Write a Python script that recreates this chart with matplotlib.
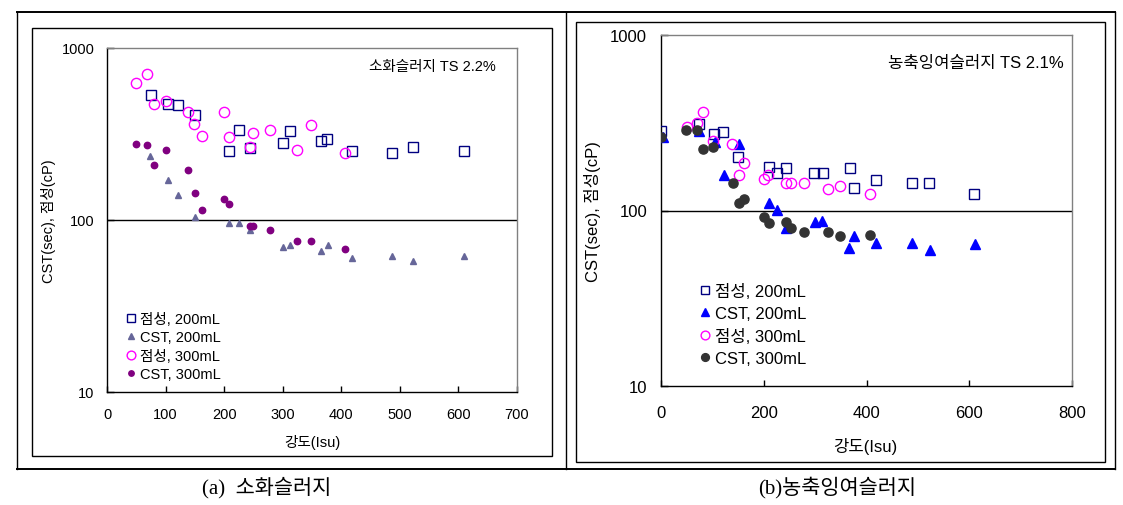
import matplotlib
matplotlib.use("Agg")
import matplotlib.pyplot as plt
from matplotlib.lines import Line2D
from matplotlib.patches import Rectangle

plt.rcParams['font.family'] = ['Liberation Sans', 'Noto Sans CJK KR', 'DejaVu Sans']

# ---------------- data: (a) 소화슬러지 ----------------
a_visc200_x = [75, 104, 122, 150, 208, 225, 244, 300, 313, 366, 376, 418, 486, 522, 609]
a_visc200_y = [531, 471, 464, 406, 251, 335, 262, 279, 329, 287, 295, 251, 244, 265, 253]
a_cst200_x = [74, 104, 122, 150, 209, 225, 244, 300, 313, 366, 377, 418, 486, 522, 609]
a_cst200_y = [234, 171, 140, 104, 96, 96, 88, 70, 72, 66, 72, 60, 62, 58, 62]
a_visc300_x = [49, 69, 80, 100, 139, 149, 162, 199, 208, 250, 244, 279, 324, 348, 406]
a_visc300_y = [627, 706, 474, 492, 423, 362, 307, 423, 305, 322, 265, 335, 254, 356, 244]
a_cst300_x = [49, 69, 80, 100, 139, 150, 162, 200, 209, 244, 250, 279, 325, 348, 406]
a_cst300_y = [278, 274, 209, 254, 195, 143, 114, 132, 124, 92, 92, 88, 75.5, 75.5, 68]

# ---------------- data: (b) 농축잉여슬러지 ----------------
b_visc200_x = [0, 73, 103, 121, 150, 210, 225, 244, 298, 315, 367, 375, 419, 489, 522, 610]
b_visc200_y = [285, 311, 273, 279, 203, 176, 163, 174, 163, 163, 175, 134, 149, 144, 144, 124]
b_cst200_x = [3, 73, 105, 122, 151, 210, 225, 243, 300, 314, 366, 376, 419, 489, 523, 611]
b_cst200_y = [262, 285, 245, 160, 239, 111, 101, 80, 85.7, 86.8, 61.4, 71.3, 65, 65.3, 59.6, 64.2]
b_visc300_x = [50, 71, 81, 101, 139, 162, 151, 200, 209, 243, 253, 278, 326, 349, 406]
b_visc300_y = [301, 316, 364, 250, 239, 187, 159, 151, 159, 144, 144, 144, 133, 138, 124]
b_cst300_x = [0, 49, 71, 82, 101, 140, 151, 162, 200, 210, 243, 253, 278, 326, 349, 406]
b_cst300_y = [264, 289, 289, 223, 229, 144, 111, 116, 92, 85, 85.7, 79.8, 75.4, 75.4, 71.8, 72.2]

labels = ['점성, 200mL', 'CST, 200mL', '점성, 300mL', 'CST, 300mL']
a_xticks = [0, 100, 200, 300, 400, 500, 600, 700]
b_xticks = [0, 200, 400, 600, 800]
yticks = [10, 100, 1000]
ylabel = 'CST(sec), 점성(cP)'
xlabel = '강도(Isu)'
a_note = '소화슬러지 TS 2.2%'
b_note = '농축잉여슬러지 TS 2.1%'
a_caption = '(a)  소화슬러지'
b_caption = '(b)농축잉여슬러지'

W, H = 1123, 506
fig = plt.figure(figsize=(W / 100, H / 100), dpi=100)


def box(l, t, r, b):
    return [l / W, 1 - b / H, (r - l) / W, (b - t) / H]


def line(x0, y0, x1, y1, lw=1.0):
    fig.add_artist(Line2D([x0 / W, x1 / W], [1 - y0 / H, 1 - y1 / H],
                          transform=fig.transFigure, color='black', lw=lw))


# outer table
line(17, 13, 1115, 13, 1.4)
line(17, 470, 1115, 470, 1.4)
line(17, 13, 17, 470, 1.0)
line(1115, 13, 1115, 470, 1.0)
line(566, 13, 566, 470, 1.0)
# chart boxes
for (l, t, r, b) in [(32, 29, 552, 457), (576, 23, 1105, 463)]:
    fig.add_artist(Rectangle((l / W, 1 - b / H), (r - l) / W, (b - t) / H,
                             transform=fig.transFigure, fill=False,
                             edgecolor='black', lw=1.0))


def setup(ax, xmax, xticks, fs, xpad, ypad, note, note_xy, note_fs,
          xl_xy, yl_x):
    ax.set_yscale('log')
    ax.set_ylim(10, 1000)
    ax.set_xlim(0, xmax)
    ax.set_xticks(xticks)
    ax.set_xticklabels([str(t) for t in xticks])
    ax.set_yticks(yticks)
    ax.set_yticklabels([str(t) for t in yticks])
    ax.yaxis.set_minor_locator(matplotlib.ticker.NullLocator())
    ax.tick_params(axis='x', direction='in', length=4, width=1, pad=xpad,
                   labelsize=fs, colors='black')
    ax.tick_params(axis='y', direction='in', length=5, width=1, pad=ypad,
                   labelsize=fs, colors='black')
    ax.spines['left'].set_color('black')
    ax.spines['bottom'].set_color('black')
    ax.spines['top'].set_color('#808080')
    ax.spines['right'].set_color('#808080')
    for s in ax.spines.values():
        s.set_linewidth(1.0)
    ax.axhline(100, color='black', lw=1.0, zorder=1)
    ax.text(note_xy[0], note_xy[1], note, transform=ax.transAxes,
            ha='right', va='center', fontsize=note_fs)
    ax.set_xlabel(xlabel, fontsize=fs)
    ax.xaxis.set_label_coords(*xl_xy)
    ax.set_ylabel(ylabel, fontsize=fs)
    ax.yaxis.set_label_coords(yl_x, 0.5)


# ---------------- (a) ----------------
axa = fig.add_axes(box(107, 49, 517, 393))
setup(axa, 700, a_xticks, 10.5, 11, 9, a_note, (0.949, 0.948), 10.5,
      (0.5, -0.122), -0.125)
ha1, = axa.plot(a_visc200_x, a_visc200_y, 's', ms=7.4, mfc='none', mec='#000080',
                mew=1.0, ls='none', label=labels[0], zorder=3)
ha2, = axa.plot(a_cst200_x, a_cst200_y, '^', ms=4.6, color='#666699', ls='none',
                label=labels[1], zorder=3)
ha3, = axa.plot(a_visc300_x, a_visc300_y, 'o', ms=7.4, mfc='none', mec='#FF00FF',
                mew=1.0, ls='none', label=labels[2], zorder=3)
ha4, = axa.plot(a_cst300_x, a_cst300_y, 'o', ms=4.6, color='#800080', ls='none',
                label=labels[3], zorder=3)
axa.legend(handles=[ha1, ha2, ha3, ha4], loc='upper left',
           bbox_to_anchor=((125 - 107) / 410, (393 - 313) / 344),
           frameon=False, fontsize=10.5, handlelength=0.8, handletextpad=0.2,
           borderpad=0, borderaxespad=0, labelspacing=0.3, markerscale=0.85)

# ---------------- (b) ----------------
axb = fig.add_axes(box(661, 36, 1072, 387))
setup(axb, 800, b_xticks, 12, 14, 10, b_note, (0.98, 0.923), 12,
      (0.496, -0.145), -0.147)
hb1, = axb.plot(b_visc200_x, b_visc200_y, 's', ms=7.4, mfc='none', mec='#000080',
                mew=1.0, ls='none', label=labels[0], zorder=3)
hb2, = axb.plot(b_cst200_x, b_cst200_y, '^', ms=6.6, color='#0000FF', ls='none',
                label=labels[1], zorder=3)
hb3, = axb.plot(b_visc300_x, b_visc300_y, 'o', ms=7.4, mfc='none', mec='#FF00FF',
                mew=1.0, ls='none', label=labels[2], zorder=3)
hb4, = axb.plot(b_cst300_x, b_cst300_y, 'o', ms=6.6, color='#333333', ls='none',
                label=labels[3], zorder=3)
axb.legend(handles=[hb1, hb2, hb3, hb4], loc='upper left',
           bbox_to_anchor=((698 - 661) / 411, (387 - 284) / 351),
           frameon=False, fontsize=12, handlelength=0.8, handletextpad=0.2,
           borderpad=0, borderaxespad=0, labelspacing=0.42, markerscale=0.85)

# captions
cap_font = ['Liberation Serif', 'Noto Sans CJK KR', 'DejaVu Serif']
fig.text(267 / W, 1 - 488 / H, a_caption, ha='center', va='center',
         fontsize=15, family=cap_font)
fig.text(837 / W, 1 - 488 / H, b_caption, ha='center', va='center',
         fontsize=15, family=cap_font)

fig.savefig('out.png', dpi=100)
